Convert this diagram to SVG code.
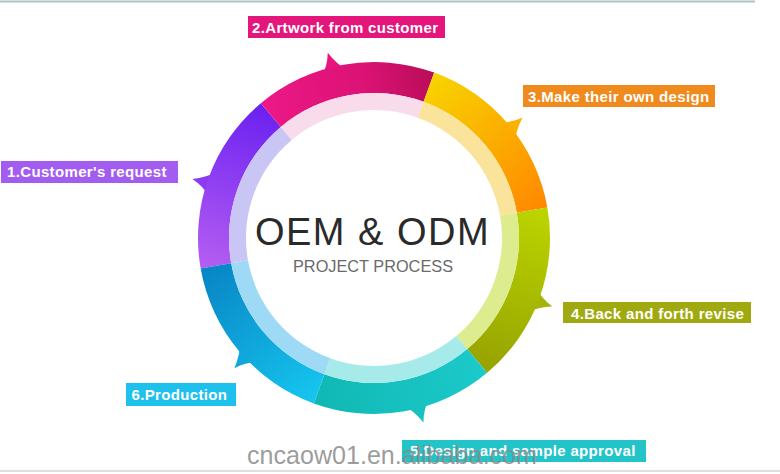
<svg xmlns="http://www.w3.org/2000/svg" width="780" height="474" viewBox="0 0 780 474">
<style>
.lbl{font-family:"Liberation Sans",Arial,sans-serif;font-weight:bold;font-size:15px;letter-spacing:0.35px;fill:#ffffff}
.title{font-family:"Liberation Sans",Arial,sans-serif;font-size:38px;letter-spacing:1.5px;fill:#2a2a2a}
.sub{font-family:"Liberation Sans",Arial,sans-serif;font-size:17px;fill:#6a6a6a}
.wm{font-family:"Liberation Sans Narrow","Liberation Sans",Arial,sans-serif;font-size:25px;fill:#8a8a8a;fill-opacity:0.85}
</style>
<defs>
<linearGradient id="g1" gradientUnits="userSpaceOnUse" x1="260" y1="103" x2="205" y2="268"><stop offset="0" stop-color="#6a20f0"/><stop offset="1" stop-color="#b55ef2"/></linearGradient>
<linearGradient id="g2" gradientUnits="userSpaceOnUse" x1="261" y1="103" x2="434" y2="73"><stop offset="0" stop-color="#ec1886"/><stop offset="0.6" stop-color="#dc1275"/><stop offset="1" stop-color="#b80d58"/></linearGradient>
<linearGradient id="g3" gradientUnits="userSpaceOnUse" x1="434" y1="73" x2="547" y2="207"><stop offset="0" stop-color="#f8d400"/><stop offset="1" stop-color="#ff8800"/></linearGradient>
<linearGradient id="g4" gradientUnits="userSpaceOnUse" x1="547" y1="207" x2="487" y2="373"><stop offset="0" stop-color="#bcd600"/><stop offset="1" stop-color="#96a200"/></linearGradient>
<linearGradient id="g5" gradientUnits="userSpaceOnUse" x1="487" y1="373" x2="314" y2="403"><stop offset="0" stop-color="#1ccaca"/><stop offset="1" stop-color="#10b8b4"/></linearGradient>
<linearGradient id="g6" gradientUnits="userSpaceOnUse" x1="314" y1="403" x2="201" y2="269"><stop offset="0" stop-color="#16c6f0"/><stop offset="1" stop-color="#0884c4"/></linearGradient>
<path id="tail" d="M169.35,-14.82 Q177,-7 190.97,-3.33 Q178,2.5 169.59,11.86 Z"/>
</defs>
<rect width="780" height="474" fill="#ffffff"/>
<line x1="0" y1="1.5" x2="755" y2="1.5" stroke="#a9c4c4" stroke-width="2"/>
<line x1="0" y1="471" x2="780" y2="471" stroke="#d4d4d4" stroke-width="1.5"/>

<g id="step1">
<use href="#tail" transform="translate(374 238) rotate(199)" fill="#8a3af0"/>
<path d="M200.67,268.56 A176,176 0 0 1 260.87,103.18 L280.80,126.92 A145,145 0 0 0 231.20,263.18 Z" fill="url(#g1)"/>
<path d="M231.20,263.18 A145,145 0 0 1 280.80,126.92 L291.72,139.95 A128,128 0 0 0 247.94,260.23 Z" fill="#c9c6f6"/>
<rect x="1" y="161" width="177" height="22" fill="#a35cf0"/>
<text class="lbl" x="7" y="177">1.Customer's request</text>
</g>

<g id="step2">
<use href="#tail" transform="translate(374 238) rotate(-103)" fill="#e8157e"/>
<path d="M260.87,103.18 A176,176 0 0 1 434.20,72.61 L423.59,101.74 A145,145 0 0 0 280.80,126.92 Z" fill="url(#g2)"/>
<path d="M280.80,126.92 A145,145 0 0 1 423.59,101.74 L417.78,117.72 A128,128 0 0 0 291.72,139.95 Z" fill="#f9dcec"/>
<rect x="248" y="16" width="197" height="22" fill="#e4157b"/>
<text class="lbl" x="252" y="32.5">2.Artwork from customer</text>
</g>

<g id="step3">
<use href="#tail" transform="translate(374 238) rotate(-38)" fill="#fcb000"/>
<path d="M434.20,72.61 A176,176 0 0 1 547.33,207.44 L516.80,212.82 A145,145 0 0 0 423.59,101.74 Z" fill="url(#g3)"/>
<path d="M423.59,101.74 A145,145 0 0 1 516.80,212.82 L500.06,215.77 A128,128 0 0 0 417.78,117.72 Z" fill="#fae49c"/>
<rect x="523" y="85" width="192" height="22" fill="#f08a1c"/>
<text class="lbl" x="528" y="102">3.Make their own design</text>
</g>

<g id="step4">
<use href="#tail" transform="translate(374 238) rotate(22)" fill="#a6b40a"/>
<path d="M547.33,207.44 A176,176 0 0 1 487.13,372.82 L467.20,349.08 A145,145 0 0 0 516.80,212.82 Z" fill="url(#g4)"/>
<path d="M516.80,212.82 A145,145 0 0 1 467.20,349.08 L456.28,336.05 A128,128 0 0 0 500.06,215.77 Z" fill="#dcec8e"/>
<rect x="563" y="302" width="188" height="21" fill="#a0aa10"/>
<text class="lbl" x="571" y="319">4.Back and forth revise</text>
</g>

<g id="step5">
<use href="#tail" transform="translate(374 238) rotate(76)" fill="#18c2c0"/>
<path d="M487.13,372.82 A176,176 0 0 1 313.80,403.39 L324.41,374.26 A145,145 0 0 0 467.20,349.08 Z" fill="url(#g5)"/>
<path d="M467.20,349.08 A145,145 0 0 1 324.41,374.26 L330.22,358.28 A128,128 0 0 0 456.28,336.05 Z" fill="#a6eaea"/>
<rect x="402" y="440" width="244" height="22" fill="#22c4c8"/>
<text class="lbl" x="410" y="456">5.Design and sample approval</text>
</g>

<g id="step6">
<use href="#tail" transform="translate(374 238) rotate(138)" fill="#0ea8de"/>
<path d="M313.80,403.39 A176,176 0 0 1 200.67,268.56 L231.20,263.18 A145,145 0 0 0 324.41,374.26 Z" fill="url(#g6)"/>
<path d="M324.41,374.26 A145,145 0 0 1 231.20,263.18 L247.94,260.23 A128,128 0 0 0 330.22,358.28 Z" fill="#9edaf6"/>
<rect x="126" y="383" width="110" height="23" fill="#1ec0ec"/>
<text class="lbl" x="131.5" y="399.5">6.Production</text>
</g>

<g id="center">
<text class="title" x="372.5" y="245" text-anchor="middle">OEM &amp; ODM</text>
<text class="sub" x="293" y="272" textLength="160" lengthAdjust="spacingAndGlyphs">PROJECT PROCESS</text>
</g>

<text class="wm" x="247" y="464" textLength="290" lengthAdjust="spacingAndGlyphs">cncaow01.en.alibaba.com</text>
</svg>
